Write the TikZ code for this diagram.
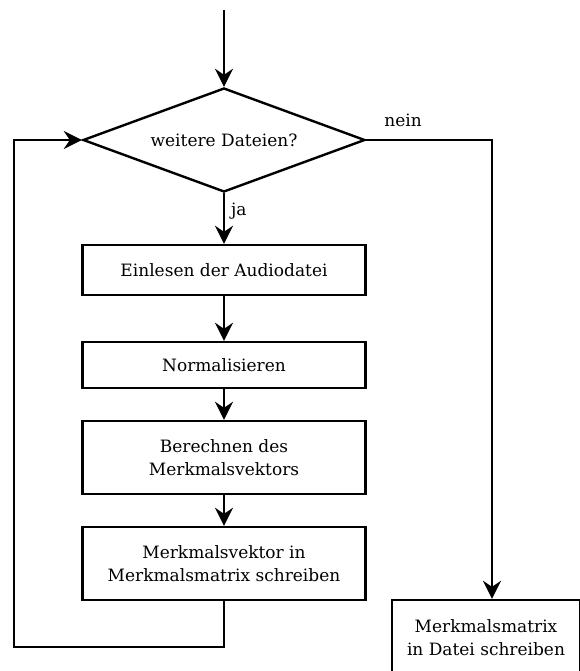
\documentclass[tikz,border=0pt]{standalone}
\usepackage{fontspec}
\setmainfont{DejaVu Serif}
\usetikzlibrary{shapes.geometric,arrows.meta}
\begin{document}
\begin{tikzpicture}[x=1pt,y=-1pt,
  line width=2.4pt,
  flow/.style={-{Stealth[length=18pt,width=18pt,inset=6pt]}},
  txt/.style={font=\fontsize{17}{23}\selectfont},
  procbox/.style={draw,rectangle,minimum height=#1,align=center,txt,inner sep=0pt},
  lbl/.style={txt,inner sep=0pt}]
\useasboundingbox (0,0) rectangle (580,671);
\begin{scope}
\clip (0,0) rectangle (580,671);
\coordinate (start) at (224,10);
\node[draw,diamond,aspect=2.7,minimum width=282pt,minimum height=104pt,inner sep=0pt,txt] (dec) at (224,140) {weitere Dateien?};
\node[procbox=50pt,minimum width=283pt] (read) at (224,270) {Einlesen der Audiodatei};
\node[procbox=46pt,minimum width=283pt] (norm) at (224,365) {Normalisieren};
\node[procbox=73pt,minimum width=283pt] (calc) at (224,457.5) {Berechnen des\\Merkmalsvektors};
\node[procbox=73pt,minimum width=283pt] (write) at (224,563.5) {Merkmalsvektor in\\Merkmalsmatrix schreiben};
\node[procbox=100pt,minimum width=188pt] (save) at (486,650) {};
\node[lbl,align=center] at (486,638) {Merkmalsmatrix\\in Datei schreiben};
\coordinate (loopA) at (224,647);
\coordinate (loopB) at (14,647);
\coordinate (loopC) at (14,140);
\coordinate (neinA) at (492,140);

\draw[flow] (start) -- (dec.north);
\draw[flow] (dec.south) -- node[lbl,right=6pt,pos=0.35] {ja} (read.north);
\draw[flow] (read) -- (norm);
\draw[flow] (norm) -- (calc);
\draw[flow] (calc) -- (write);
\draw[flow] (write.south) -- (loopA) -- (loopB) -- (loopC) -- (dec.west);
\draw[flow] (dec.east) -- (neinA) -- (neinA |- save.north);
\node[lbl] at (403,120) {nein};
\end{scope}
\end{tikzpicture}
\end{document}
